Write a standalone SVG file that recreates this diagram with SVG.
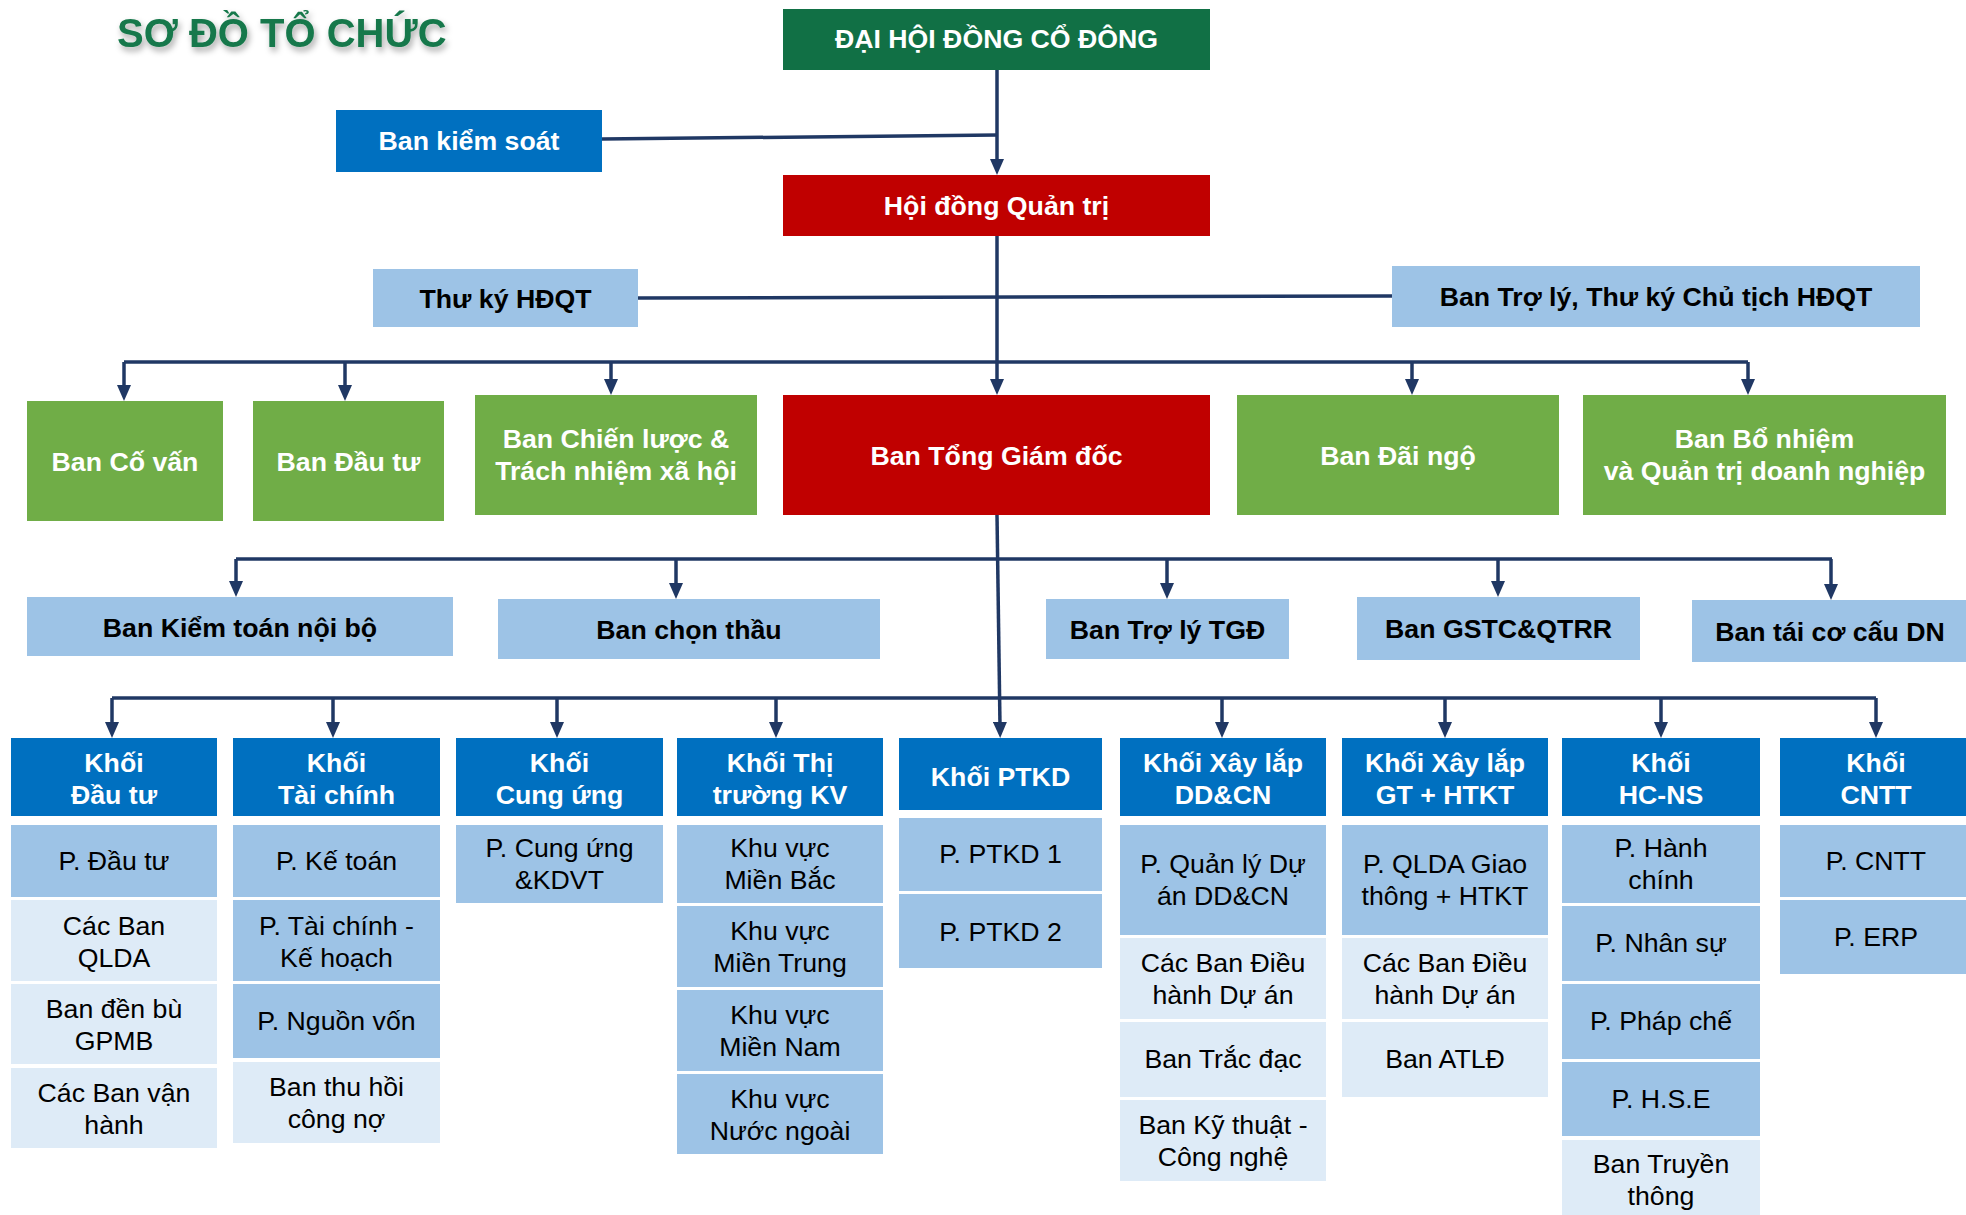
<svg xmlns="http://www.w3.org/2000/svg" width="1966" height="1215" viewBox="0 0 1966 1215">
<defs>
<marker id="arr" markerUnits="userSpaceOnUse" markerWidth="16" markerHeight="14" viewBox="0 0 16 14" refX="4" refY="7" orient="auto">
<path d="M0,0 L16,7 L0,14 z" fill="#203864"/>
</marker>
<filter id="sh" x="-10%" y="-30%" width="130%" height="180%">
<feDropShadow dx="2" dy="4" stdDeviation="3" flood-color="#000" flood-opacity="0.35"/>
</filter>
<style>
text{font-family:"Liberation Sans",Arial,sans-serif;font-size:26.7px;text-anchor:middle}
.b{font-weight:bold}
.w{fill:#fff}
.k{fill:#000}
.dg{fill:#117045}
.rd{fill:#c00000}
.bl{fill:#0070c0}
.gr{fill:#70ad47}
.lb{fill:#9dc3e6}
.xl{fill:#deebf7}
.c{stroke:#203864;stroke-width:3.5;fill:none}
.a{marker-end:url(#arr)}
</style>
</defs>
<rect width="1966" height="1215" fill="#fff"/>
<text x="117" y="47" class="b" style="font-size:40px;text-anchor:start;fill:#17784b" filter="url(#sh)">SƠ ĐỒ TỔ CHỨC</text>

<g id="connectors">
<path class="c" d="M602,139 L997,135"/>
<path class="c a" d="M997,70 V163"/>
<path class="c" d="M638,298 L1392,296"/>
<path class="c a" d="M997,236 V383"/>
<path class="c" d="M124,362 H1748"/>
<path class="c a" d="M124,362 V389"/>
<path class="c a" d="M345,362 V389"/>
<path class="c a" d="M611,362 V383"/>
<path class="c a" d="M1412,362 V383"/>
<path class="c a" d="M1748,362 V383"/>
<path class="c a" d="M997,515 L1000,726"/>
<path class="c" d="M236,559 H1832"/>
<path class="c a" d="M236,559 V585"/>
<path class="c a" d="M676,559 V587"/>
<path class="c a" d="M1167,559 V587"/>
<path class="c a" d="M1498,559 V585"/>
<path class="c a" d="M1831,559 V588"/>
<path class="c" d="M112,698 H1876"/>
<path class="c a" d="M112,698 V726"/>
<path class="c a" d="M333,698 V726"/>
<path class="c a" d="M557,698 V726"/>
<path class="c a" d="M776,698 V726"/>
<path class="c a" d="M1222,698 V726"/>
<path class="c a" d="M1445,698 V726"/>
<path class="c a" d="M1661,698 V726"/>
<path class="c a" d="M1876,698 V726"/>
</g>

<g id="dhdcd"><rect class="dg" x="783" y="9" width="427" height="61"/><text class="b w" x="996.5" y="48">ĐẠI HỘI ĐỒNG CỔ ĐÔNG</text></g>
<g id="bks"><rect class="bl" x="336" y="110" width="266" height="62"/><text class="b w" x="469" y="150">Ban kiểm soát</text></g>
<g id="hdqt"><rect class="rd" x="783" y="175" width="427" height="61"/><text class="b w" x="996.5" y="215">Hội đồng Quản trị</text></g>
<g id="thuky"><rect class="lb" x="373" y="269" width="265" height="58"/><text class="b k" x="505.5" y="308">Thư ký HĐQT</text></g>
<g id="trolyct"><rect class="lb" x="1392" y="266" width="528" height="61"/><text class="b k" x="1656" y="306">Ban Trợ lý, Thư ký Chủ tịch HĐQT</text></g>

<g id="covan"><rect class="gr" x="27" y="401" width="196" height="120"/><text class="b w" x="125" y="471">Ban Cố vấn</text></g>
<g id="dautu"><rect class="gr" x="253" y="401" width="191" height="120"/><text class="b w" x="348.5" y="471">Ban Đầu tư</text></g>
<g id="chienluoc"><rect class="gr" x="475" y="395" width="282" height="120"/><text class="b w"><tspan x="616" y="448">Ban Chiến lược &amp;</tspan><tspan x="616" y="480">Trách nhiệm xã hội</tspan></text></g>
<g id="btgd"><rect class="rd" x="783" y="395" width="427" height="120"/><text class="b w" x="996.5" y="465">Ban Tổng Giám đốc</text></g>
<g id="daingo"><rect class="gr" x="1237" y="395" width="322" height="120"/><text class="b w" x="1398" y="465">Ban Đãi ngộ</text></g>
<g id="bonhiem"><rect class="gr" x="1583" y="395" width="363" height="120"/><text class="b w"><tspan x="1764.5" y="448">Ban Bổ nhiệm</tspan><tspan x="1764.5" y="480">và Quản trị doanh nghiệp</tspan></text></g>

<g id="kiemtoan"><rect class="lb" x="27" y="597" width="426" height="59"/><text class="b k" x="240" y="637">Ban Kiểm toán nội bộ</text></g>
<g id="chonthau"><rect class="lb" x="498" y="599" width="382" height="60"/><text class="b k" x="689" y="639">Ban chọn thầu</text></g>
<g id="trolytgd"><rect class="lb" x="1046" y="599" width="243" height="60"/><text class="b k" x="1167.5" y="639">Ban Trợ lý TGĐ</text></g>
<g id="gstc"><rect class="lb" x="1357" y="597" width="283" height="63"/><text class="b k" x="1498.5" y="638">Ban GSTC&amp;QTRR</text></g>
<g id="taicocau"><rect class="lb" x="1692" y="600" width="274" height="62"/><text class="b k" x="1830" y="641">Ban tái cơ cấu DN</text></g>

<g id="khoi-dautu">
<rect class="bl" x="11" y="738" width="206" height="78"/><text class="b w"><tspan x="114" y="772">Khối</tspan><tspan x="114" y="804">Đầu tư</tspan></text>
<rect class="lb" x="11" y="825" width="206" height="72"/><text class="k" x="114" y="870">P. Đầu tư</text>
<rect class="xl" x="11" y="900" width="206" height="81"/><text class="k"><tspan x="114" y="935">Các Ban</tspan><tspan x="114" y="967">QLDA</tspan></text>
<rect class="xl" x="11" y="984" width="206" height="80"/><text class="k"><tspan x="114" y="1018">Ban đền bù</tspan><tspan x="114" y="1050">GPMB</tspan></text>
<rect class="xl" x="11" y="1068" width="206" height="80"/><text class="k"><tspan x="114" y="1102">Các Ban vận</tspan><tspan x="114" y="1134">hành</tspan></text>
</g>
<g id="khoi-taichinh">
<rect class="bl" x="233" y="738" width="207" height="78"/><text class="b w"><tspan x="336.5" y="772">Khối</tspan><tspan x="336.5" y="804">Tài chính</tspan></text>
<rect class="lb" x="233" y="825" width="207" height="72"/><text class="k" x="336.5" y="870">P. Kế toán</text>
<rect class="lb" x="233" y="900" width="207" height="81"/><text class="k"><tspan x="336.5" y="935">P. Tài chính -</tspan><tspan x="336.5" y="967">Kế hoạch</tspan></text>
<rect class="lb" x="233" y="984" width="207" height="74"/><text class="k" x="336.5" y="1030">P. Nguồn vốn</text>
<rect class="xl" x="233" y="1062" width="207" height="81"/><text class="k"><tspan x="336.5" y="1096">Ban thu hồi</tspan><tspan x="336.5" y="1128">công nợ</tspan></text>
</g>
<g id="khoi-cungung">
<rect class="bl" x="456" y="738" width="207" height="78"/><text class="b w"><tspan x="559.5" y="772">Khối</tspan><tspan x="559.5" y="804">Cung ứng</tspan></text>
<rect class="lb" x="456" y="825" width="207" height="78"/><text class="k"><tspan x="559.5" y="857">P. Cung ứng</tspan><tspan x="559.5" y="889">&amp;KDVT</tspan></text>
</g>
<g id="khoi-thitruong">
<rect class="bl" x="677" y="738" width="206" height="78"/><text class="b w"><tspan x="780" y="772">Khối Thị</tspan><tspan x="780" y="804">trường KV</tspan></text>
<rect class="lb" x="677" y="825" width="206" height="78"/><text class="k"><tspan x="780" y="857">Khu vực</tspan><tspan x="780" y="889">Miền Bắc</tspan></text>
<rect class="lb" x="677" y="906" width="206" height="81"/><text class="k"><tspan x="780" y="940">Khu vực</tspan><tspan x="780" y="972">Miền Trung</tspan></text>
<rect class="lb" x="677" y="990" width="206" height="81"/><text class="k"><tspan x="780" y="1024">Khu vực</tspan><tspan x="780" y="1056">Miền Nam</tspan></text>
<rect class="lb" x="677" y="1074" width="206" height="80"/><text class="k"><tspan x="780" y="1108">Khu vực</tspan><tspan x="780" y="1140">Nước ngoài</tspan></text>
</g>
<g id="khoi-ptkd">
<rect class="bl" x="899" y="738" width="203" height="72"/><text class="b w" x="1000.5" y="786">Khối PTKD</text>
<rect class="lb" x="899" y="818" width="203" height="73"/><text class="k" x="1000.5" y="863">P. PTKD 1</text>
<rect class="lb" x="899" y="894" width="203" height="74"/><text class="k" x="1000.5" y="941">P. PTKD 2</text>
</g>
<g id="khoi-ddcn">
<rect class="bl" x="1120" y="738" width="206" height="78"/><text class="b w"><tspan x="1223" y="772">Khối Xây lắp</tspan><tspan x="1223" y="804">DD&amp;CN</tspan></text>
<rect class="lb" x="1120" y="825" width="206" height="110"/><text class="k"><tspan x="1223" y="873">P. Quản lý Dự</tspan><tspan x="1223" y="905">án DD&amp;CN</tspan></text>
<rect class="xl" x="1120" y="938" width="206" height="81"/><text class="k"><tspan x="1223" y="972">Các Ban Điều</tspan><tspan x="1223" y="1004">hành Dự án</tspan></text>
<rect class="xl" x="1120" y="1022" width="206" height="75"/><text class="k" x="1223" y="1068">Ban Trắc đạc</text>
<rect class="xl" x="1120" y="1100" width="206" height="81"/><text class="k"><tspan x="1223" y="1134">Ban Kỹ thuật -</tspan><tspan x="1223" y="1166">Công nghệ</tspan></text>
</g>
<g id="khoi-gt">
<rect class="bl" x="1342" y="738" width="206" height="78"/><text class="b w"><tspan x="1445" y="772">Khối Xây lắp</tspan><tspan x="1445" y="804">GT + HTKT</tspan></text>
<rect class="lb" x="1342" y="825" width="206" height="110"/><text class="k"><tspan x="1445" y="873">P. QLDA Giao</tspan><tspan x="1445" y="905">thông + HTKT</tspan></text>
<rect class="xl" x="1342" y="938" width="206" height="81"/><text class="k"><tspan x="1445" y="972">Các Ban Điều</tspan><tspan x="1445" y="1004">hành Dự án</tspan></text>
<rect class="xl" x="1342" y="1022" width="206" height="75"/><text class="k" x="1445" y="1068">Ban ATLĐ</text>
</g>
<g id="khoi-hcns">
<rect class="bl" x="1562" y="738" width="198" height="78"/><text class="b w"><tspan x="1661" y="772">Khối</tspan><tspan x="1661" y="804">HC-NS</tspan></text>
<rect class="lb" x="1562" y="825" width="198" height="78"/><text class="k"><tspan x="1661" y="857">P. Hành</tspan><tspan x="1661" y="889">chính</tspan></text>
<rect class="lb" x="1562" y="906" width="198" height="75"/><text class="k" x="1661" y="952">P. Nhân sự</text>
<rect class="lb" x="1562" y="984" width="198" height="75"/><text class="k" x="1661" y="1030">P. Pháp chế</text>
<rect class="lb" x="1562" y="1062" width="198" height="74"/><text class="k" x="1661" y="1108">P. H.S.E</text>
<rect class="xl" x="1562" y="1140" width="198" height="75"/><text class="k"><tspan x="1661" y="1173">Ban Truyền</tspan><tspan x="1661" y="1205">thông</tspan></text>
</g>
<g id="khoi-cntt">
<rect class="bl" x="1780" y="738" width="186" height="78"/><text class="b w"><tspan x="1876" y="772">Khối</tspan><tspan x="1876" y="804">CNTT</tspan></text>
<rect class="lb" x="1780" y="825" width="186" height="72"/><text class="k" x="1876" y="870">P. CNTT</text>
<rect class="lb" x="1780" y="900" width="186" height="74"/><text class="k" x="1876" y="946">P. ERP</text>
</g>
</svg>
